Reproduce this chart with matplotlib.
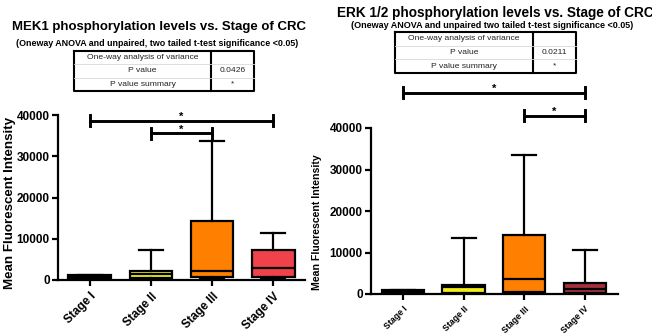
import matplotlib
matplotlib.use("Agg")
import matplotlib.pyplot as plt
from matplotlib.lines import Line2D

plt.rcParams['font.family'] = ['Liberation Sans', 'DejaVu Sans']

# ---------------- data ----------------
stages = ["Stage I", "Stage II", "Stage III", "Stage IV"]

mek_min = [100, 100, 200, 600]
mek_q1 = [100, 500, 800, 700]
mek_med = [700, 1500, 2300, 2800]
mek_q3 = [1100, 2200, 14300, 7300]
mek_max = [1300, 7200, 33700, 11500]
mek_colors = ["#000000", "#f2ee1c", "#ff8000", "#f0424a"]
mek_sig = [(1, 4, 38600), (2, 3, 35600)]

erk_min = [100, 100, 300, 100]
erk_q1 = [100, 300, 600, 300]
erk_med = [500, 1700, 3600, 1200]
erk_q3 = [900, 2200, 14300, 2600]
erk_max = [900, 13600, 33400, 10700]
erk_colors = ["#000000", "#f2ee1c", "#ff8000", "#a3323c"]
erk_sig = [(1, 4, 48500), (3, 4, 43000)]

mek_p = "0.0426"
erk_p = "0.0211"
table_rows = ["One-way analysis of variance", "P value", "P value summary"]

W, H = 652, 336
fig = plt.figure(figsize=(W / 100, H / 100), dpi=100)


def fx(px):
    return px / W


def fy(py):
    return 1 - py / H


def draw_panel(ax, mins, q1s, meds, q3s, maxs, colors, sigs, lw, tick_fs, xtick_fs, xlim, sig_tick):
    stats = []
    for i in range(len(stages)):
        stats.append(dict(whislo=mins[i], q1=q1s[i], med=meds[i], q3=q3s[i],
                          whishi=maxs[i], label=stages[i], fliers=[]))
    bp = ax.bxp(stats, positions=range(1, 5), widths=0.7, patch_artist=True,
                showfliers=False, capwidths=0.4,
                boxprops=dict(linewidth=lw, edgecolor="black"),
                whiskerprops=dict(linewidth=lw, color="black"),
                capprops=dict(linewidth=lw, color="black"),
                medianprops=dict(linewidth=lw, color="black"))
    for patch, c in zip(bp["boxes"], colors):
        patch.set_facecolor(c)
    ax.set_ylim(0, 40000)
    ax.set_xlim(*xlim)
    ax.set_yticks([0, 10000, 20000, 30000, 40000])
    ax.set_yticklabels(["0", "10000", "20000", "30000", "40000"],
                       fontsize=tick_fs, fontweight="bold")
    ax.set_xticks(range(1, 5))
    ax.set_xticklabels(stages, rotation=45, ha="right", rotation_mode="anchor",
                       fontsize=xtick_fs, fontweight="bold")
    for s in ["top", "right"]:
        ax.spines[s].set_visible(False)
    for s in ["left", "bottom"]:
        ax.spines[s].set_linewidth(lw)
    ax.tick_params(axis="both", width=lw, length=4, direction="out")
    ax.tick_params(axis="y", pad=2)
    for a, b, y in sigs:
        ax.plot([a, b], [y, y], color="black", lw=lw + 0.5, clip_on=False)
        for xx in (a, b):
            ax.plot([xx, xx], [y - sig_tick, y + sig_tick], color="black",
                    lw=lw + 0.5, clip_on=False)
        ax.text((a + b) / 2, y + 900, "*", ha="center", va="center",
                fontsize=8, fontweight="bold", clip_on=False)


def draw_table(x0, x1, xd, y0, y1, pval, fs):
    rh = (y1 - y0) / 3
    fig.add_artist(Line2D([fx(x0), fx(x1), fx(x1), fx(x0), fx(x0)],
                          [fy(y0), fy(y0), fy(y1), fy(y1), fy(y0)],
                          color="black", lw=1.5))
    fig.add_artist(Line2D([fx(xd), fx(xd)], [fy(y0), fy(y1)], color="black", lw=1.5))
    for k in (1, 2):
        yy = y0 + k * rh
        fig.add_artist(Line2D([fx(x0), fx(x1)], [fy(yy), fy(yy)],
                              color="#d8d8d8", lw=0.6))
    vals = ["", pval, "*"]
    for k in range(3):
        yc = y0 + (k + 0.5) * rh
        fig.text(fx((x0 + xd) / 2), fy(yc), table_rows[k], ha="center",
                 va="center", fontsize=fs, color="#222222")
        fig.text(fx((xd + x1) / 2), fy(yc), vals[k], ha="center",
                 va="center", fontsize=fs, color="#222222")


# ---------------- left panel ----------------
axL = fig.add_axes([fx(58), fy(280), fx(305) - fx(58), fy(115) - fy(280)])
draw_panel(axL, mek_min, mek_q1, mek_med, mek_q3, mek_max, mek_colors, mek_sig,
           lw=1.6, tick_fs=8.5, xtick_fs=8.5, xlim=(0.48, 4.52), sig_tick=1300)
fig.text(fx(10), fy(203), "Mean Fluorescent Intensity", rotation=90,
         ha="center", va="center", fontsize=9.6, fontweight="bold")

fig.text(fx(159), fy(27), "MEK1 phosphorylation levels vs. Stage of CRC",
         ha="center", va="center", fontsize=9.5, fontweight="bold")
fig.text(fx(157), fy(43),
         "(Oneway ANOVA and unpaired, two tailed t-test significance <0.05)",
         ha="center", va="center", fontsize=6.4, fontweight="bold")
draw_table(74, 254, 211, 51, 91, mek_p, 6.1)

# ---------------- right panel ----------------
axR = fig.add_axes([fx(371), fy(294), fx(618) - fx(371), fy(128) - fy(294)])
draw_panel(axR, erk_min, erk_q1, erk_med, erk_q3, erk_max, erk_colors, erk_sig,
           lw=1.6, tick_fs=8.5, xtick_fs=6.3, xlim=(0.47, 4.55), sig_tick=1300)
fig.text(fx(317), fy(222), "Mean Fluorescent Intensity", rotation=90,
         ha="center", va="center", fontsize=7.6, fontweight="bold")

fig.text(fx(495), fy(13), "ERK 1/2 phosphorylation levels vs. Stage of CRC",
         ha="center", va="center", fontsize=9.8, fontweight="bold")
fig.text(fx(492), fy(25),
         "(Oneway ANOVA and unpaired two tailed t-test significance <0.05)",
         ha="center", va="center", fontsize=6.5, fontweight="bold")
draw_table(395, 576, 533, 32, 73, erk_p, 6.1)

fig.savefig("out.png", dpi=100)
